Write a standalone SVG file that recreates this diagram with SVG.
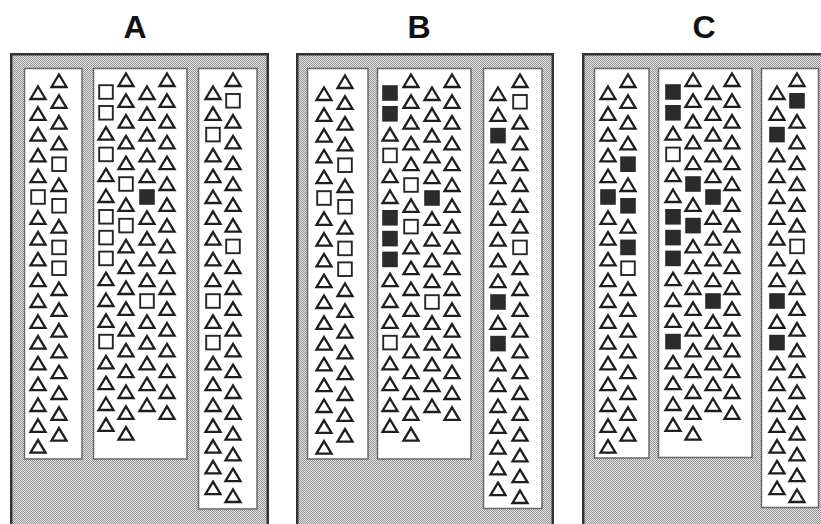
<svg xmlns="http://www.w3.org/2000/svg" xmlns:xlink="http://www.w3.org/1999/xlink" width="821" height="524" viewBox="0 0 821 524">
<style>
.tri{fill:none;stroke:#1e1e1e;stroke-width:2.3;stroke-linejoin:miter}
.sq{fill:none;stroke:#262626;stroke-width:1.9}
.fsq{fill:#2b2b2b;stroke:#2b2b2b;stroke-width:1.6}
.frame{fill:url(#stip);stroke:#333;stroke-width:2.5}
.col{fill:#fff;stroke:#6a6a6a;stroke-width:1.5}
.lbl{font-family:"Liberation Sans",Arial,sans-serif;font-weight:bold;font-size:32px;text-anchor:middle;fill:#111}
</style>
<defs>
<pattern id="stip" width="2" height="2" patternUnits="userSpaceOnUse"><rect width="2" height="2" fill="#e6e6e6"/><rect width="1" height="1" fill="#939393"/><rect x="1" y="1" width="1" height="1" fill="#939393"/></pattern>
<path id="t" class="tri" d="M0,-6.5 L7.5,6 L-7.5,6 Z"/>
<rect id="s" class="sq" x="-6.8" y="-6.8" width="13.6" height="13.6"/>
<rect id="f" class="fsq" x="-7" y="-7" width="14" height="14"/>
<g id="c17"><use href="#t"/><use href="#t" y="20.8"/><use href="#t" y="41.6"/><use href="#t" y="62.4"/><use href="#t" y="83.2"/><use href="#t" y="104"/><use href="#t" y="124.8"/><use href="#t" y="145.6"/><use href="#t" y="166.4"/><use href="#t" y="187.2"/><use href="#t" y="208"/><use href="#t" y="228.8"/><use href="#t" y="249.6"/><use href="#t" y="270.4"/><use href="#t" y="291.2"/><use href="#t" y="312"/><use href="#t" y="332.8"/></g>
<g id="L1a"><use href="#t"/><use href="#t" y="20.8"/><use href="#t" y="41.6"/><use href="#t" y="62.4"/><use href="#t" y="83.2"/><use href="#s" y="104"/><use href="#t" y="124.8"/><use href="#t" y="145.6"/><use href="#t" y="166.4"/><use href="#t" y="187.2"/><use href="#t" y="208"/><use href="#t" y="228.8"/><use href="#t" y="249.6"/><use href="#t" y="270.4"/><use href="#t" y="291.2"/><use href="#t" y="312"/><use href="#t" y="332.8"/><use href="#t" y="353.6"/></g>
<g id="L2a"><use href="#t"/><use href="#t" y="20.8"/><use href="#t" y="41.6"/><use href="#t" y="62.4"/><use href="#s" y="83.2"/><use href="#t" y="104"/><use href="#s" y="124.8"/><use href="#t" y="145.6"/><use href="#s" y="166.4"/><use href="#s" y="187.2"/><use href="#t" y="208"/><use href="#t" y="228.8"/><use href="#t" y="249.6"/><use href="#t" y="270.4"/><use href="#t" y="291.2"/><use href="#t" y="312"/><use href="#t" y="332.8"/><use href="#t" y="353.6"/></g>
<g id="M2a"><use href="#t"/><use href="#t" y="20.8"/><use href="#t" y="41.6"/><use href="#t" y="62.4"/><use href="#t" y="83.2"/><use href="#s" y="104"/><use href="#t" y="124.8"/><use href="#s" y="145.6"/><use href="#t" y="166.4"/><use href="#t" y="187.2"/><use href="#t" y="208"/><use href="#t" y="228.8"/><use href="#t" y="249.6"/><use href="#t" y="270.4"/><use href="#t" y="291.2"/><use href="#t" y="312"/><use href="#t" y="332.8"/><use href="#t" y="353.6"/></g>
<g id="M3a"><use href="#t"/><use href="#t" y="20.8"/><use href="#t" y="41.6"/><use href="#t" y="62.4"/><use href="#t" y="83.2"/><use href="#f" y="104"/><use href="#t" y="124.8"/><use href="#t" y="145.6"/><use href="#t" y="166.4"/><use href="#t" y="187.2"/><use href="#s" y="208"/><use href="#t" y="228.8"/><use href="#t" y="249.6"/><use href="#t" y="270.4"/><use href="#t" y="291.2"/><use href="#t" y="312"/></g>
<g id="R2a"><use href="#t"/><use href="#s" y="20.8"/><use href="#t" y="41.6"/><use href="#t" y="62.4"/><use href="#t" y="83.2"/><use href="#t" y="104"/><use href="#t" y="124.8"/><use href="#t" y="145.6"/><use href="#s" y="166.4"/><use href="#t" y="187.2"/><use href="#t" y="208"/><use href="#t" y="228.8"/><use href="#t" y="249.6"/><use href="#t" y="270.4"/><use href="#t" y="291.2"/><use href="#t" y="312"/><use href="#t" y="332.8"/><use href="#t" y="353.6"/><use href="#t" y="374.4"/><use href="#t" y="395.2"/><use href="#t" y="416"/></g>
<g id="R1b"><use href="#t"/><use href="#t" y="20.8"/><use href="#f" y="41.6"/><use href="#t" y="62.4"/><use href="#t" y="83.2"/><use href="#t" y="104"/><use href="#t" y="124.8"/><use href="#t" y="145.6"/><use href="#t" y="166.4"/><use href="#t" y="187.2"/><use href="#f" y="208"/><use href="#t" y="228.8"/><use href="#f" y="249.6"/><use href="#t" y="270.4"/><use href="#t" y="291.2"/><use href="#t" y="312"/><use href="#t" y="332.8"/><use href="#t" y="353.6"/><use href="#t" y="374.4"/><use href="#t" y="395.2"/></g>
</defs>
<rect width="821" height="524" fill="#fff"/>
<text class="lbl" x="135" y="38">A</text>
<text class="lbl" x="419" y="38">B</text>
<text class="lbl" x="704" y="38">C</text>

<g id="panelA">
<rect class="frame" x="11.25" y="54.25" width="256.5" height="480"/>
<g id="A-left">
<rect class="col" x="24.5" y="68.5" width="57.5" height="390.5"/>
<use href="#L1a" x="38" y="93"/>
<use href="#L2a" x="59" y="81"/>
</g>
<g id="A-middle">
<rect class="col" x="93.5" y="68.5" width="93.5" height="390.5"/>
<g transform="translate(106,92)"><use href="#s"/><use href="#s" y="20.8"/><use href="#t" y="41.6"/><use href="#s" y="62.4"/><use href="#t" y="83.2"/><use href="#t" y="104"/><use href="#s" y="124.8"/><use href="#s" y="145.6"/><use href="#s" y="166.4"/><use href="#t" y="187.2"/><use href="#t" y="208"/><use href="#t" y="228.8"/><use href="#s" y="249.6"/><use href="#t" y="270.4"/><use href="#t" y="291.2"/><use href="#t" y="312"/><use href="#t" y="332.8"/></g>
<use href="#M2a" x="126" y="80"/>
<use href="#M3a" x="147" y="93"/>
<use href="#c17" x="167" y="80"/>
</g>
<g id="A-right">
<rect class="col" x="198.5" y="68.5" width="58.5" height="440.5"/>
<g transform="translate(213,93)"><use href="#t"/><use href="#t" y="20.8"/><use href="#s" y="41.6"/><use href="#t" y="62.4"/><use href="#t" y="83.2"/><use href="#t" y="104"/><use href="#t" y="124.8"/><use href="#t" y="145.6"/><use href="#t" y="166.4"/><use href="#t" y="187.2"/><use href="#s" y="208"/><use href="#t" y="228.8"/><use href="#s" y="249.6"/><use href="#t" y="270.4"/><use href="#t" y="291.2"/><use href="#t" y="312"/><use href="#t" y="332.8"/><use href="#t" y="353.6"/><use href="#t" y="374.4"/><use href="#t" y="395.2"/></g>
<use href="#R2a" x="233" y="80"/>
</g>
</g>

<g id="panelB">
<rect class="frame" x="297.25" y="54.25" width="255.5" height="480"/>
<g id="B-left">
<rect class="col" x="307.5" y="68.5" width="60.5" height="390.5"/>
<use href="#L1a" x="324" y="94"/>
<use href="#L2a" x="345" y="82"/>
</g>
<g id="B-middle">
<rect class="col" x="377.5" y="68.5" width="93.5" height="390.5"/>
<g transform="translate(390,93)"><use href="#f"/><use href="#f" y="20.8"/><use href="#t" y="41.6"/><use href="#s" y="62.4"/><use href="#t" y="83.2"/><use href="#t" y="104"/><use href="#f" y="124.8"/><use href="#f" y="145.6"/><use href="#f" y="166.4"/><use href="#t" y="187.2"/><use href="#t" y="208"/><use href="#t" y="228.8"/><use href="#s" y="249.6"/><use href="#t" y="270.4"/><use href="#t" y="291.2"/><use href="#t" y="312"/><use href="#t" y="332.8"/></g>
<use href="#M2a" x="411" y="81"/>
<use href="#M3a" x="432" y="94"/>
<use href="#c17" x="452" y="81"/>
</g>
<g id="B-right">
<rect class="col" x="483.5" y="68.5" width="58.5" height="440"/>
<use href="#R1b" x="498" y="94"/>
<use href="#R2a" x="520" y="81"/>
</g>
</g>

<g id="panelC">
<rect class="frame" x="583.25" y="54.25" width="260" height="480"/>
<g id="C-left">
<rect class="col" x="594.5" y="68.5" width="54.5" height="389.5"/>
<g transform="translate(608,93)"><use href="#t"/><use href="#t" y="20.8"/><use href="#t" y="41.6"/><use href="#t" y="62.4"/><use href="#t" y="83.2"/><use href="#f" y="104"/><use href="#t" y="124.8"/><use href="#t" y="145.6"/><use href="#t" y="166.4"/><use href="#t" y="187.2"/><use href="#t" y="208"/><use href="#t" y="228.8"/><use href="#t" y="249.6"/><use href="#t" y="270.4"/><use href="#t" y="291.2"/><use href="#t" y="312"/><use href="#t" y="332.8"/><use href="#t" y="353.6"/></g>
<g transform="translate(628,81)"><use href="#t"/><use href="#t" y="20.8"/><use href="#t" y="41.6"/><use href="#t" y="62.4"/><use href="#f" y="83.2"/><use href="#t" y="104"/><use href="#f" y="124.8"/><use href="#t" y="145.6"/><use href="#f" y="166.4"/><use href="#s" y="187.2"/><use href="#t" y="208"/><use href="#t" y="228.8"/><use href="#t" y="249.6"/><use href="#t" y="270.4"/><use href="#t" y="291.2"/><use href="#t" y="312"/><use href="#t" y="332.8"/><use href="#t" y="353.6"/></g>
</g>
<g id="C-middle">
<rect class="col" x="658.5" y="68.5" width="93.5" height="389"/>
<g transform="translate(673,92)"><use href="#f"/><use href="#f" y="20.8"/><use href="#t" y="41.6"/><use href="#s" y="62.4"/><use href="#t" y="83.2"/><use href="#t" y="104"/><use href="#f" y="124.8"/><use href="#f" y="145.6"/><use href="#f" y="166.4"/><use href="#t" y="187.2"/><use href="#t" y="208"/><use href="#t" y="228.8"/><use href="#f" y="249.6"/><use href="#t" y="270.4"/><use href="#t" y="291.2"/><use href="#t" y="312"/><use href="#t" y="332.8"/></g>
<g transform="translate(693,80)"><use href="#t"/><use href="#t" y="20.8"/><use href="#t" y="41.6"/><use href="#t" y="62.4"/><use href="#t" y="83.2"/><use href="#f" y="104"/><use href="#t" y="124.8"/><use href="#f" y="145.6"/><use href="#t" y="166.4"/><use href="#t" y="187.2"/><use href="#t" y="208"/><use href="#t" y="228.8"/><use href="#t" y="249.6"/><use href="#t" y="270.4"/><use href="#t" y="291.2"/><use href="#t" y="312"/><use href="#t" y="332.8"/><use href="#t" y="353.6"/></g>
<g transform="translate(713,93)"><use href="#t"/><use href="#t" y="20.8"/><use href="#t" y="41.6"/><use href="#t" y="62.4"/><use href="#t" y="83.2"/><use href="#f" y="104"/><use href="#t" y="124.8"/><use href="#t" y="145.6"/><use href="#t" y="166.4"/><use href="#t" y="187.2"/><use href="#f" y="208"/><use href="#t" y="228.8"/><use href="#t" y="249.6"/><use href="#t" y="270.4"/><use href="#t" y="291.2"/><use href="#t" y="312"/></g>
<use href="#c17" x="732" y="80"/>
</g>
<g id="C-right">
<rect class="col" x="761.5" y="68.5" width="57" height="439"/>
<use href="#R1b" x="777" y="93"/>
<g transform="translate(797,80)"><use href="#t"/><use href="#f" y="20.8"/><use href="#t" y="41.6"/><use href="#t" y="62.4"/><use href="#t" y="83.2"/><use href="#t" y="104"/><use href="#t" y="124.8"/><use href="#t" y="145.6"/><use href="#s" y="166.4"/><use href="#t" y="187.2"/><use href="#t" y="208"/><use href="#t" y="228.8"/><use href="#t" y="249.6"/><use href="#t" y="270.4"/><use href="#t" y="291.2"/><use href="#t" y="312"/><use href="#t" y="332.8"/><use href="#t" y="353.6"/><use href="#t" y="374.4"/><use href="#t" y="395.2"/><use href="#t" y="416"/></g>
</g>
</g>
</svg>
